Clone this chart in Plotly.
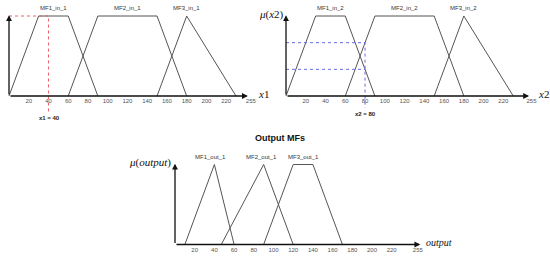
import plotly.graph_objects as go

W, H = 550, 258

# ---------------- data ----------------
in_mf1_x = [0, 30, 60, 90];    in_mf1_y = [0, 1, 1, 0]
in_mf2_x = [60, 90, 150, 180]; in_mf2_y = [0, 1, 1, 0]
in_mf3_x = [150, 180, 230];    in_mf3_y = [0, 1, 0]
in_names_1 = ["MF1_in_1", "MF2_in_1", "MF3_in_1"]
in_names_2 = ["MF1_in_2", "MF2_in_2", "MF3_in_2"]
in_label_x = [45, 120, 180]

out_mf1_x = [10, 40, 60];        out_mf1_y = [0, 1, 0]
out_mf2_x = [47, 90, 120];       out_mf2_y = [0, 1, 0]
out_mf3_x = [90, 120, 140, 170]; out_mf3_y = [0, 1, 1, 0]
out_names = ["MF1_out_1", "MF2_out_1", "MF3_out_1"]
out_label_x = [36, 88, 130]

tick_vals = [20, 40, 60, 80, 100, 120, 140, 160, 180, 200, 220]
tick_text = [str(v) for v in tick_vals] + ["255"]
end_tick = [245, 248.5, 246.5]   # where the "255" label sits in each panel
axis_end = [242, 246, 249]

x1_input = 40
x2_input = 80
mu2_a = 2 / 3   # MF2_in_2(80)
mu2_b = 1 / 3   # MF1_in_2(80)

# ---------------- panel geometry (pixels) ----------------
panels = [
    dict(ox=9, oy=96, sx=0.987, sy=80, box=(0, 272, 0, 128)),
    dict(ox=286, oy=96, sx=0.988, sy=80, box=(275, 550, 0, 128)),
    dict(ox=175, oy=244.5, sx=0.985, sy=80, box=(120, 470, 126, 258)),
]

fig = go.Figure()
LINE = dict(color="#555555", width=1)
layout_axes = {}
annotations = []
tick_font = dict(family="Liberation Sans, Arial", size=6, color="#555555")
lab_font = dict(family="Liberation Sans, Arial", size=6, color="#333333")
serif = "Liberation Serif, DejaVu Serif, serif"

for i, p in enumerate(panels):
    x0, x1, y0, y1 = p["box"]
    xr = [(x0 - p["ox"]) / p["sx"], (x1 - p["ox"]) / p["sx"]]
    yr = [(p["oy"] - y1) / p["sy"], (p["oy"] - y0) / p["sy"]]
    sfx = "" if i == 0 else str(i + 1)
    layout_axes["xaxis" + sfx] = dict(
        domain=[x0 / W, x1 / W], range=xr, anchor="free", position=1 - p["oy"] / H,
        showgrid=False, zeroline=False, showline=False, ticks="", ticklen=0,
        tickvals=tick_vals + [end_tick[i]], ticktext=tick_text, tickfont=tick_font,
        fixedrange=True,
    )
    layout_axes["yaxis" + sfx] = dict(
        domain=[1 - y1 / H, 1 - y0 / H], range=yr, visible=False, fixedrange=True,
    )
    xa, ya = "x" + sfx, "y" + sfx
    annotations.append(dict(x=axis_end[i], y=0, ax=0, ay=0, xref=xa, yref=ya, axref=xa, ayref=ya,
                            text="", showarrow=True, arrowhead=2, arrowsize=0.9, arrowwidth=1.3,
                            arrowcolor="#111111", standoff=0))
    annotations.append(dict(x=0, y=1.01, ax=0, ay=0, xref=xa, yref=ya, axref=xa, ayref=ya,
                            text="", showarrow=True, arrowhead=2, arrowsize=0.9, arrowwidth=1.3,
                            arrowcolor="#111111", standoff=0))

# input panels
for i, names in enumerate([in_names_1, in_names_2]):
    xa = "x" if i == 0 else "x2"
    ya = "y" if i == 0 else "y2"
    for xs, ys in [(in_mf1_x, in_mf1_y), (in_mf2_x, in_mf2_y), (in_mf3_x, in_mf3_y)]:
        fig.add_trace(go.Scatter(x=xs, y=ys, mode="lines", line=LINE, xaxis=xa, yaxis=ya,
                                 hoverinfo="skip", showlegend=False))
    for n, lx in zip(names, in_label_x):
        annotations.append(dict(x=lx, y=1.1, xref=xa, yref=ya, text=n, showarrow=False, font=lab_font))

# output panel
for xs, ys in [(out_mf1_x, out_mf1_y), (out_mf2_x, out_mf2_y), (out_mf3_x, out_mf3_y)]:
    fig.add_trace(go.Scatter(x=xs, y=ys, mode="lines", line=LINE, xaxis="x3", yaxis="y3",
                             hoverinfo="skip", showlegend=False))
for n, lx in zip(out_names, out_label_x):
    annotations.append(dict(x=lx, y=1.1, xref="x3", yref="y3", text=n, showarrow=False, font=lab_font))

RED = dict(color="#f0606a", width=1, dash="dot")
fig.add_trace(go.Scatter(x=[0, x1_input, x1_input], y=[1, 1, -0.21], mode="lines", line=RED,
                         xaxis="x", yaxis="y", hoverinfo="skip", showlegend=False))
BLUE = dict(color="#6a6ae8", width=1, dash="dot")
fig.add_trace(go.Scatter(x=[0, x2_input, x2_input], y=[mu2_a, mu2_a, -0.15], mode="lines", line=BLUE,
                         xaxis="x2", yaxis="y2", hoverinfo="skip", showlegend=False))
fig.add_trace(go.Scatter(x=[0, x2_input], y=[mu2_b, mu2_b], mode="lines", line=BLUE,
                         xaxis="x2", yaxis="y2", hoverinfo="skip", showlegend=False))

small_bold = dict(family="Liberation Sans, Arial", size=6, color="#222222")
annotations += [
    dict(x=x1_input + 1, y=-0.27, xref="x", yref="y", text="<b>x1 = 40</b>", showarrow=False, font=small_bold),
    dict(x=x2_input, y=-0.22, xref="x2", yref="y2", text="<b>x2 = 80</b>", showarrow=False, font=small_bold),
    dict(x=244, y=0.02, xref="x", yref="y", text="<i>x</i>1", showarrow=False, xanchor="left", xshift=6,
         font=dict(family=serif, size=11, color="#111111")),
    dict(x=248, y=0.02, xref="x2", yref="y2", text="<i>x</i>2", showarrow=False, xanchor="left", xshift=5,
         font=dict(family=serif, size=11, color="#111111")),
    dict(x=0, y=1.025, xref="x2", yref="y2", text="<i>μ</i>(<i>x</i>2)", showarrow=False, xanchor="right",
         yanchor="middle", xshift=0, font=dict(family=serif, size=11, color="#111111")),
    dict(x=0, y=1.02, xref="x3", yref="y3", text="<i>μ</i>(<i>output</i>)", showarrow=False, xanchor="right",
         yanchor="middle", xshift=-2, font=dict(family=serif, size=11, color="#111111")),
    dict(x=251, y=0.02, xref="x3", yref="y3", text="<i>output</i>", showarrow=False, xanchor="left", xshift=2,
         font=dict(family=serif, size=10, color="#111111")),
    dict(x=280 / W, y=1 - 138 / H, xref="paper", yref="paper", text="<b>Output MFs</b>", showarrow=False,
         font=dict(family="Liberation Sans, Arial", size=9, color="#111111")),
]

fig.update_layout(
    width=W, height=H, margin=dict(l=0, r=0, t=0, b=0),
    paper_bgcolor="white", plot_bgcolor="rgba(0,0,0,0)",
    annotations=annotations, **layout_axes,
)
fig.write_html("out.html", config={"displayModeBar": False},
               post_script="document.body.style.margin='0px';document.body.style.padding='0px';")
